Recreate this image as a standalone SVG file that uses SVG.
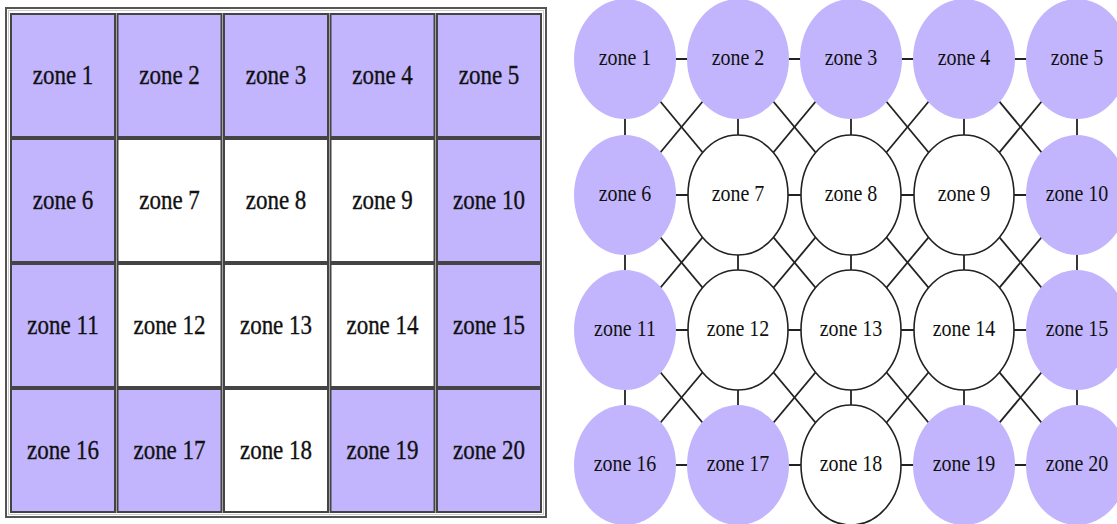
<svg xmlns="http://www.w3.org/2000/svg" width="1117" height="524" viewBox="0 0 1117 524" font-family="Liberation Serif, Times New Roman, serif">
<style>
.cp{fill:#c2b5fe;stroke:#444;stroke-width:2}
.cw{fill:#fff;stroke:#444;stroke-width:2}
.t1{font-size:23px;fill:#111;stroke:#111;stroke-width:0.3;text-anchor:middle}
.t2{font-size:20px;fill:#111;text-anchor:middle}
.np{fill:#c2b5fe;stroke:none}
.nw{fill:#fff;stroke:#222;stroke-width:1.6}
.e line{stroke:#222;stroke-width:1.8}
</style>
<rect width="1117" height="524" fill="#fff"/>
<g id="table">
<rect x="6" y="8" width="540" height="509" fill="#fff" stroke="#555" stroke-width="2"/>
<rect x="8.5" y="10.5" width="535" height="504" fill="none" stroke="#ccc" stroke-width="1"/>
</g>
<g id="c1"><rect class="cp" x="11" y="14" width="104" height="123"/><text class="t1" transform="translate(63,75.5) scale(1,1.17)" y="7">zone 1</text></g>
<g id="c2"><rect class="cp" x="117.5" y="14" width="104" height="123"/><text class="t1" transform="translate(169.5,75.5) scale(1,1.17)" y="7">zone 2</text></g>
<g id="c3"><rect class="cp" x="224" y="14" width="104" height="123"/><text class="t1" transform="translate(276,75.5) scale(1,1.17)" y="7">zone 3</text></g>
<g id="c4"><rect class="cp" x="330.5" y="14" width="104" height="123"/><text class="t1" transform="translate(382.5,75.5) scale(1,1.17)" y="7">zone 4</text></g>
<g id="c5"><rect class="cp" x="437" y="14" width="104" height="123"/><text class="t1" transform="translate(489,75.5) scale(1,1.17)" y="7">zone 5</text></g>
<g id="c6"><rect class="cp" x="11" y="139" width="104" height="123"/><text class="t1" transform="translate(63,200.5) scale(1,1.17)" y="7">zone 6</text></g>
<g id="c7"><rect class="cw" x="117.5" y="139" width="104" height="123"/><text class="t1" transform="translate(169.5,200.5) scale(1,1.17)" y="7">zone 7</text></g>
<g id="c8"><rect class="cw" x="224" y="139" width="104" height="123"/><text class="t1" transform="translate(276,200.5) scale(1,1.17)" y="7">zone 8</text></g>
<g id="c9"><rect class="cw" x="330.5" y="139" width="104" height="123"/><text class="t1" transform="translate(382.5,200.5) scale(1,1.17)" y="7">zone 9</text></g>
<g id="c10"><rect class="cp" x="437" y="139" width="104" height="123"/><text class="t1" transform="translate(489,200.5) scale(1,1.17)" y="7">zone 10</text></g>
<g id="c11"><rect class="cp" x="11" y="264" width="104" height="123"/><text class="t1" transform="translate(63,325.5) scale(1,1.17)" y="7">zone 11</text></g>
<g id="c12"><rect class="cw" x="117.5" y="264" width="104" height="123"/><text class="t1" transform="translate(169.5,325.5) scale(1,1.17)" y="7">zone 12</text></g>
<g id="c13"><rect class="cw" x="224" y="264" width="104" height="123"/><text class="t1" transform="translate(276,325.5) scale(1,1.17)" y="7">zone 13</text></g>
<g id="c14"><rect class="cw" x="330.5" y="264" width="104" height="123"/><text class="t1" transform="translate(382.5,325.5) scale(1,1.17)" y="7">zone 14</text></g>
<g id="c15"><rect class="cp" x="437" y="264" width="104" height="123"/><text class="t1" transform="translate(489,325.5) scale(1,1.17)" y="7">zone 15</text></g>
<g id="c16"><rect class="cp" x="11" y="389" width="104" height="123"/><text class="t1" transform="translate(63,450.5) scale(1,1.17)" y="7">zone 16</text></g>
<g id="c17"><rect class="cp" x="117.5" y="389" width="104" height="123"/><text class="t1" transform="translate(169.5,450.5) scale(1,1.17)" y="7">zone 17</text></g>
<g id="c18"><rect class="cw" x="224" y="389" width="104" height="123"/><text class="t1" transform="translate(276,450.5) scale(1,1.17)" y="7">zone 18</text></g>
<g id="c19"><rect class="cp" x="330.5" y="389" width="104" height="123"/><text class="t1" transform="translate(382.5,450.5) scale(1,1.17)" y="7">zone 19</text></g>
<g id="c20"><rect class="cp" x="437" y="389" width="104" height="123"/><text class="t1" transform="translate(489,450.5) scale(1,1.17)" y="7">zone 20</text></g>

<g id="edges" class="e">
<line x1="625" y1="59" x2="738" y2="59"/><line x1="738" y1="59" x2="851" y2="59"/><line x1="851" y1="59" x2="964" y2="59"/><line x1="964" y1="59" x2="1077" y2="59"/>
<line x1="625" y1="195" x2="738" y2="195"/><line x1="738" y1="195" x2="851" y2="195"/><line x1="851" y1="195" x2="964" y2="195"/><line x1="964" y1="195" x2="1077" y2="195"/>
<line x1="625" y1="330" x2="738" y2="330"/><line x1="738" y1="330" x2="851" y2="330"/><line x1="851" y1="330" x2="964" y2="330"/><line x1="964" y1="330" x2="1077" y2="330"/>
<line x1="625" y1="465" x2="738" y2="465"/><line x1="738" y1="465" x2="851" y2="465"/><line x1="851" y1="465" x2="964" y2="465"/><line x1="964" y1="465" x2="1077" y2="465"/>
<line x1="625" y1="59" x2="625" y2="195"/><line x1="625" y1="195" x2="625" y2="330"/><line x1="625" y1="330" x2="625" y2="465"/>
<line x1="738" y1="59" x2="738" y2="195"/><line x1="738" y1="195" x2="738" y2="330"/><line x1="738" y1="330" x2="738" y2="465"/>
<line x1="851" y1="59" x2="851" y2="195"/><line x1="851" y1="195" x2="851" y2="330"/><line x1="851" y1="330" x2="851" y2="465"/>
<line x1="964" y1="59" x2="964" y2="195"/><line x1="964" y1="195" x2="964" y2="330"/><line x1="964" y1="330" x2="964" y2="465"/>
<line x1="1077" y1="59" x2="1077" y2="195"/><line x1="1077" y1="195" x2="1077" y2="330"/><line x1="1077" y1="330" x2="1077" y2="465"/>
<line x1="625" y1="59" x2="738" y2="195"/><line x1="738" y1="59" x2="625" y2="195"/>
<line x1="738" y1="59" x2="851" y2="195"/><line x1="851" y1="59" x2="738" y2="195"/>
<line x1="851" y1="59" x2="964" y2="195"/><line x1="964" y1="59" x2="851" y2="195"/>
<line x1="964" y1="59" x2="1077" y2="195"/><line x1="1077" y1="59" x2="964" y2="195"/>
<line x1="625" y1="195" x2="738" y2="330"/><line x1="738" y1="195" x2="625" y2="330"/>
<line x1="738" y1="195" x2="851" y2="330"/><line x1="851" y1="195" x2="738" y2="330"/>
<line x1="851" y1="195" x2="964" y2="330"/><line x1="964" y1="195" x2="851" y2="330"/>
<line x1="964" y1="195" x2="1077" y2="330"/><line x1="1077" y1="195" x2="964" y2="330"/>
<line x1="625" y1="330" x2="738" y2="465"/><line x1="738" y1="330" x2="625" y2="465"/>
<line x1="738" y1="330" x2="851" y2="465"/><line x1="851" y1="330" x2="738" y2="465"/>
<line x1="851" y1="330" x2="964" y2="465"/><line x1="964" y1="330" x2="851" y2="465"/>
<line x1="964" y1="330" x2="1077" y2="465"/><line x1="1077" y1="330" x2="964" y2="465"/>
</g>

<g id="n1"><ellipse class="np" cx="625" cy="59" rx="51" ry="60"/><text class="t2" transform="translate(625,59) scale(1,1.17)" y="5.2">zone 1</text></g>
<g id="n2"><ellipse class="np" cx="738" cy="59" rx="51" ry="60"/><text class="t2" transform="translate(738,59) scale(1,1.17)" y="5.2">zone 2</text></g>
<g id="n3"><ellipse class="np" cx="851" cy="59" rx="51" ry="60"/><text class="t2" transform="translate(851,59) scale(1,1.17)" y="5.2">zone 3</text></g>
<g id="n4"><ellipse class="np" cx="964" cy="59" rx="51" ry="60"/><text class="t2" transform="translate(964,59) scale(1,1.17)" y="5.2">zone 4</text></g>
<g id="n5"><ellipse class="np" cx="1077" cy="59" rx="51" ry="60"/><text class="t2" transform="translate(1077,59) scale(1,1.17)" y="5.2">zone 5</text></g>
<g id="n6"><ellipse class="np" cx="625" cy="195" rx="51" ry="60"/><text class="t2" transform="translate(625,195) scale(1,1.17)" y="5.2">zone 6</text></g>
<g id="n7"><ellipse class="nw" cx="738" cy="195" rx="50" ry="60"/><text class="t2" transform="translate(738,195) scale(1,1.17)" y="5.2">zone 7</text></g>
<g id="n8"><ellipse class="nw" cx="851" cy="195" rx="50" ry="60"/><text class="t2" transform="translate(851,195) scale(1,1.17)" y="5.2">zone 8</text></g>
<g id="n9"><ellipse class="nw" cx="964" cy="195" rx="50" ry="60"/><text class="t2" transform="translate(964,195) scale(1,1.17)" y="5.2">zone 9</text></g>
<g id="n10"><ellipse class="np" cx="1077" cy="195" rx="51" ry="60"/><text class="t2" transform="translate(1077,195) scale(1,1.17)" y="5.2">zone 10</text></g>
<g id="n11"><ellipse class="np" cx="625" cy="330" rx="51" ry="60"/><text class="t2" transform="translate(625,330) scale(1,1.17)" y="5.2">zone 11</text></g>
<g id="n12"><ellipse class="nw" cx="738" cy="330" rx="50" ry="60"/><text class="t2" transform="translate(738,330) scale(1,1.17)" y="5.2">zone 12</text></g>
<g id="n13"><ellipse class="nw" cx="851" cy="330" rx="50" ry="60"/><text class="t2" transform="translate(851,330) scale(1,1.17)" y="5.2">zone 13</text></g>
<g id="n14"><ellipse class="nw" cx="964" cy="330" rx="50" ry="60"/><text class="t2" transform="translate(964,330) scale(1,1.17)" y="5.2">zone 14</text></g>
<g id="n15"><ellipse class="np" cx="1077" cy="330" rx="51" ry="60"/><text class="t2" transform="translate(1077,330) scale(1,1.17)" y="5.2">zone 15</text></g>
<g id="n16"><ellipse class="np" cx="625" cy="465" rx="51" ry="60"/><text class="t2" transform="translate(625,465) scale(1,1.17)" y="5.2">zone 16</text></g>
<g id="n17"><ellipse class="np" cx="738" cy="465" rx="51" ry="60"/><text class="t2" transform="translate(738,465) scale(1,1.17)" y="5.2">zone 17</text></g>
<g id="n18"><ellipse class="nw" cx="851" cy="465" rx="50" ry="60"/><text class="t2" transform="translate(851,465) scale(1,1.17)" y="5.2">zone 18</text></g>
<g id="n19"><ellipse class="np" cx="964" cy="465" rx="51" ry="60"/><text class="t2" transform="translate(964,465) scale(1,1.17)" y="5.2">zone 19</text></g>
<g id="n20"><ellipse class="np" cx="1077" cy="465" rx="51" ry="60"/><text class="t2" transform="translate(1077,465) scale(1,1.17)" y="5.2">zone 20</text></g>
</svg>
